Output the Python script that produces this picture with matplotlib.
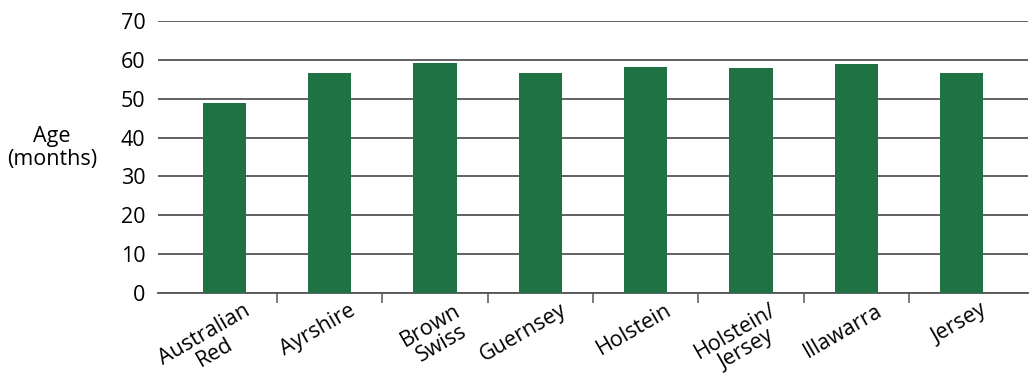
import numpy as np
import matplotlib
matplotlib.use("Agg")
import matplotlib.pyplot as plt
import matplotlib.transforms as mtransforms

breeds = ["Australian\nRed", "Ayrshire", "Brown\nSwiss", "Guernsey",
          "Holstein", "Holstein/\nJersey", "Illawarra", "Jersey"]
age_months = [48.9, 56.6, 59.2, 56.6, 58.2, 57.9, 58.9, 56.6]

plt.rcParams['font.family'] = ['Open Sans', 'DejaVu Sans']

fig = plt.figure(figsize=(10.35, 3.78), dpi=100)
ax = fig.add_axes([158/1035, 1-293/378, (1028-158)/1035, (293-21)/378])

x = np.arange(len(breeds))
ax.bar(x, age_months, width=0.41, color='#1f7244', zorder=3)

ax.set_ylim(0, 70)
ax.set_xlim(-0.63, len(breeds) - 1 + 0.63)
ax.set_yticks(np.arange(0, 71, 10))
ax.yaxis.grid(True, color='#555555', linewidth=1.3, zorder=0)
for s in ['top', 'right', 'left']:
    ax.spines[s].set_visible(False)
ax.spines['bottom'].set_color('#555555')
ax.spines['bottom'].set_linewidth(1.3)
ax.tick_params(axis='y', length=0, labelsize=15.5, pad=9)

# category separators as ticks, labels set separately
ax.set_xticks(np.arange(0.5, len(breeds) - 1, 1))
ax.set_xticklabels([])
ax.tick_params(axis='x', length=7, width=1.1, color='#555555', direction='out')

offset = mtransforms.ScaledTranslation(19/100, -7/100, fig.dpi_scale_trans)
for xi, name in zip(x, breeds):
    ax.text(xi, 0, name, transform=ax.get_xaxis_transform() + offset,
            rotation=30, rotation_mode='anchor', ha='right', va='top',
            multialignment='center', fontsize=15.5, linespacing=1.0)

fig.text(52/1035, 1-148/378, "Age\n(months)", ha='center', va='center',
         fontsize=15.5, linespacing=1.15)

fig.savefig("out.png", dpi=100)
